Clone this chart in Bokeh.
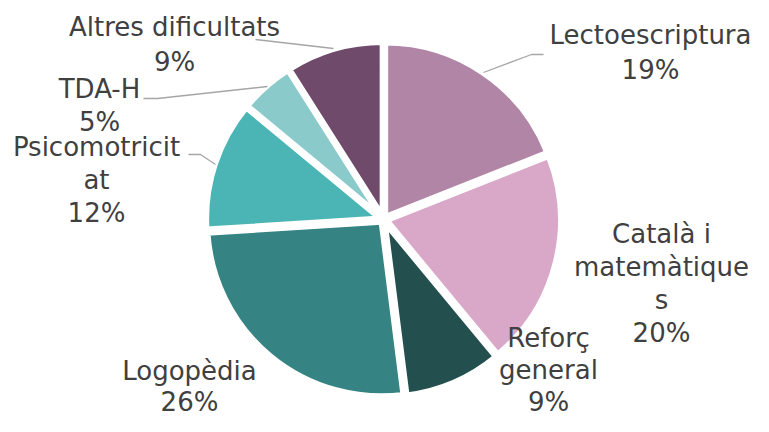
import math
from bokeh.plotting import figure
from bokeh.models import Range1d, ColumnDataSource
from bokeh.core.properties import value
from bokeh.embed import file_html
from bokeh.resources import INLINE

# ---- data ----
categories = ["Lectoescriptura", "Català i matemàtiques", "Reforç general",
              "Logopèdia", "Psicomotricitat", "TDA-H", "Altres dificultats"]
values = [19, 20, 9, 26, 12, 5, 9]
label_lines = [["Lectoescriptura"], ["Català i", "matemàtique", "s"], ["Reforç", "general"],
               ["Logopèdia"], ["Psicomotricit", "at"], ["TDA-H"], ["Altres dificultats"]]
colors = ["#B085A5", "#D9A7C7", "#244F4F", "#358383", "#4BB4B4", "#8ACACA", "#704A6A"]

# ---- layout (picture pixel coordinates, y measured from top) ----
FW, FH = 753, 416
TOP = 432
cx, cy = 383, 219
R = 174.5
EXPLODE = 3.0
# first-line baseline of every label
label_anchor = [(650, 43), (661, 242), (548, 346), (189, 379), (96, 155), (99, 97), (174, 35)]
line_steps = [35, 33, 32, 31, 33, 33, 35]
BASE_TO_MID = 9
leaders = [
    [(543, 54), (531, 54), (483, 72)],
    None, None, None,
    [(188, 154), (200, 154), (215, 164)],
    [(143, 98), (157, 98), (267, 86)],
    [(255, 39), (333, 48)],
]

def Y(yp):
    return TOP - yp

total = float(sum(values))
xs, ys, starts, ends = [], [], [], []
c = 0.0
for v in values:
    f0 = c / total
    c += v
    f1 = c / total
    a0 = math.pi / 2 - 2 * math.pi * f0
    a1 = math.pi / 2 - 2 * math.pi * f1
    mid = (a0 + a1) / 2
    xs.append(cx + EXPLODE * math.cos(mid))
    ys.append(Y(cy) + EXPLODE * math.sin(mid))
    starts.append(a0)
    ends.append(a1)

src = ColumnDataSource(dict(x=xs, y=ys, start=starts, end=ends, color=colors, cat=categories))

p = figure(width=FW, height=FH, output_backend="svg", toolbar_location=None,
           x_range=Range1d(0, FW), y_range=Range1d(TOP - FH, TOP),
           min_border=0, outline_line_color=None)
p.axis.visible = False
p.grid.visible = False

p.wedge(x="x", y="y", radius=R, start_angle="start", end_angle="end", direction="clock",
        fill_color="color", line_color="white", line_width=6, source=src)

# leader lines
for pts in leaders:
    if pts:
        p.line([q[0] for q in pts], [Y(q[1]) for q in pts], line_color="#A6A6A6", line_width=1.3)

# labels
tx, ty, tt = [], [], []
for lines, v, (ax, ay), st in zip(label_lines, values, label_anchor, line_steps):
    all_lines = lines + ["%d%%" % v]
    for i, t in enumerate(all_lines):
        tx.append(ax)
        ty.append(Y(ay + i * st - BASE_TO_MID))
        tt.append(t)
p.text(x=tx, y=ty, text=tt, text_align="center", text_baseline="middle",
       text_font=value("DejaVu Sans"), text_font_size="26px", text_color="#404040")

open("out.html", "w").write(file_html(p, INLINE))
